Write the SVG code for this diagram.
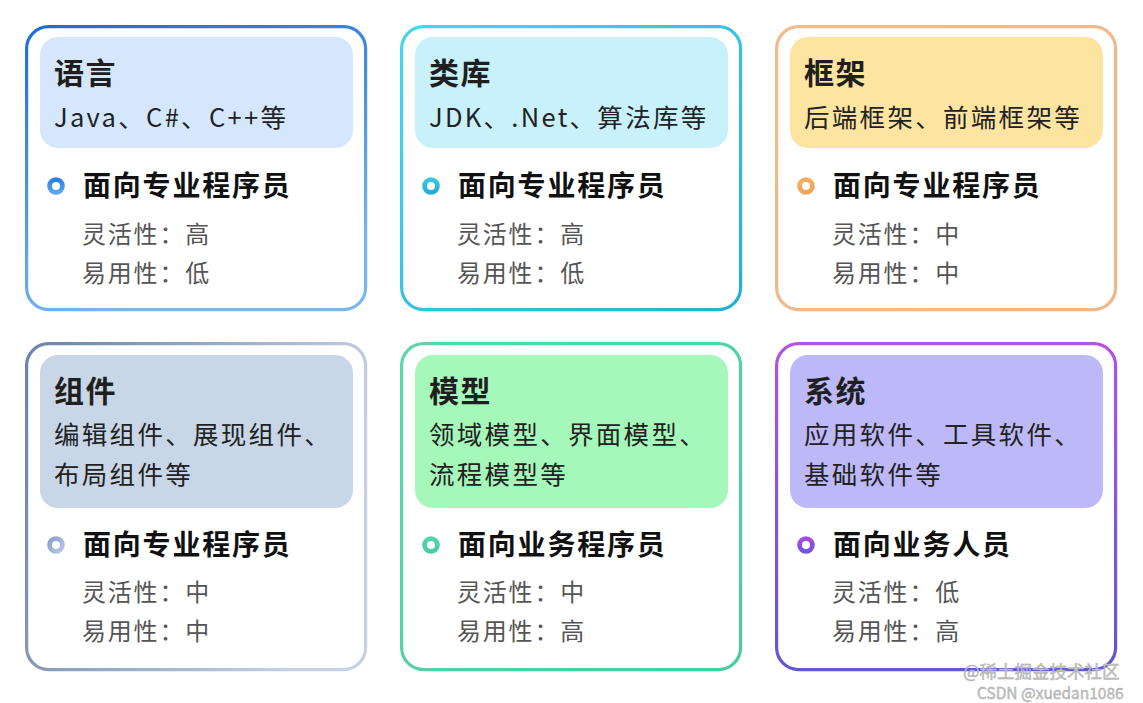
<svg xmlns="http://www.w3.org/2000/svg" width="1143" height="703" viewBox="0 0 1143 703">
<defs>
<linearGradient id="b1" x1="0" y1="0" x2="0.35" y2="1"><stop offset="0" stop-color="#1c6cd8"/><stop offset="1" stop-color="#78b8ef"/></linearGradient>
<linearGradient id="b2" x1="0" y1="0" x2="1" y2="1"><stop offset="0" stop-color="#48d6ec"/><stop offset="1" stop-color="#26afd5"/></linearGradient>
<linearGradient id="b3" x1="0" y1="0" x2="1" y2="1"><stop offset="0" stop-color="#f1bb8d"/><stop offset="1" stop-color="#efb68a"/></linearGradient>
<linearGradient id="b4" x1="0" y1="0" x2="1" y2="0.3"><stop offset="0" stop-color="#6a82a6"/><stop offset="1" stop-color="#c6d1e3"/></linearGradient>
<linearGradient id="b5" x1="0" y1="0" x2="1" y2="1"><stop offset="0" stop-color="#5dd6b0"/><stop offset="1" stop-color="#47cca2"/></linearGradient>
<linearGradient id="b6" x1="0" y1="0" x2="0" y2="1"><stop offset="0" stop-color="#b453e0"/><stop offset="1" stop-color="#5f57d3"/></linearGradient>
<linearGradient id="d1" x1="0" y1="0" x2="0" y2="1"><stop offset="0" stop-color="#2a80e2"/><stop offset="1" stop-color="#5ea6ee"/></linearGradient>
<linearGradient id="d2" x1="0" y1="0" x2="0" y2="1"><stop offset="0" stop-color="#37c6e4"/><stop offset="1" stop-color="#22acd6"/></linearGradient>
<linearGradient id="d3" x1="0" y1="0" x2="0" y2="1"><stop offset="0" stop-color="#f6ad62"/><stop offset="1" stop-color="#f2a45a"/></linearGradient>
<linearGradient id="d4" x1="0" y1="0" x2="1" y2="1"><stop offset="0" stop-color="#889fcc"/><stop offset="1" stop-color="#b8c7e6"/></linearGradient>
<linearGradient id="d5" x1="0" y1="0" x2="0" y2="1"><stop offset="0" stop-color="#52d3ae"/><stop offset="1" stop-color="#48cba6"/></linearGradient>
<linearGradient id="d6" x1="0" y1="0" x2="0" y2="1"><stop offset="0" stop-color="#a24ee0"/><stop offset="1" stop-color="#7654da"/></linearGradient>
</defs>
<style>
text{font-family:"Noto Sans CJK SC","Noto Sans",sans-serif;}
.card{fill:#ffffff;stroke-width:3.2;}
.title{font-size:30px;font-weight:700;fill:#1f1f1f;letter-spacing:1.5px;}
.sub{font-size:25.5px;fill:#222222;letter-spacing:2.3px;}
.who{font-size:28px;font-weight:700;fill:#111111;letter-spacing:1.8px;}
.det{font-size:24px;fill:#555555;letter-spacing:1.8px;}
.dot{fill:none;stroke-width:4.8;}
.wm{fill:#c4c4c4;stroke:#a8a8a8;stroke-width:0.4;}
</style>
<rect width="1143" height="703" fill="#ffffff"/>

<g id="card-yuyan">
<rect class="card" x="26.6" y="26.6" width="339" height="283" rx="22" stroke="url(#b1)"/>
<rect x="40" y="37" width="313" height="111" rx="18" fill="#d5e7fc"/>
<text class="title" x="54" y="84">语言</text>
<text class="sub" x="54" y="127">Java、C#、C++等</text>
<circle class="dot" cx="56" cy="186" r="6.4" stroke="url(#d1)"/>
<text class="who" x="83" y="196">面向专业程序员</text>
<text class="det" x="82" y="243">灵活性：高</text>
<text class="det" x="82" y="282">易用性：低</text>
</g>

<g id="card-leiku">
<rect class="card" x="401.6" y="26.6" width="339" height="283" rx="22" stroke="url(#b2)"/>
<rect x="415" y="37" width="313" height="111" rx="18" fill="#c8f1fc"/>
<text class="title" x="429" y="84">类库</text>
<text class="sub" x="429" y="127">JDK、.Net、算法库等</text>
<circle class="dot" cx="431" cy="186" r="6.4" stroke="url(#d2)"/>
<text class="who" x="458" y="196">面向专业程序员</text>
<text class="det" x="457" y="243">灵活性：高</text>
<text class="det" x="457" y="282">易用性：低</text>
</g>

<g id="card-kuangjia">
<rect class="card" x="776.6" y="26.6" width="339" height="283" rx="22" stroke="url(#b3)"/>
<rect x="790" y="37" width="313" height="111" rx="18" fill="#fde4a0"/>
<text class="title" x="804" y="84">框架</text>
<text class="sub" x="804" y="127">后端框架、前端框架等</text>
<circle class="dot" cx="806" cy="186" r="6.4" stroke="url(#d3)"/>
<text class="who" x="833" y="196">面向专业程序员</text>
<text class="det" x="832" y="243">灵活性：中</text>
<text class="det" x="832" y="282">易用性：中</text>
</g>

<g id="card-zujian">
<rect class="card" x="26.6" y="343.6" width="339" height="326" rx="22" stroke="url(#b4)"/>
<rect x="40" y="355" width="313" height="153" rx="18" fill="#c8d6e8"/>
<text class="title" x="54" y="402">组件</text>
<text class="sub" x="54" y="444">编辑组件、展现组件、</text>
<text class="sub" x="54" y="484">布局组件等</text>
<circle class="dot" cx="56" cy="545" r="6.4" stroke="url(#d4)"/>
<text class="who" x="83" y="555">面向专业程序员</text>
<text class="det" x="82" y="601">灵活性：中</text>
<text class="det" x="82" y="640">易用性：中</text>
</g>

<g id="card-moxing">
<rect class="card" x="401.6" y="343.6" width="339" height="326" rx="22" stroke="url(#b5)"/>
<rect x="415" y="355" width="313" height="153" rx="18" fill="#a6f8ba"/>
<text class="title" x="429" y="402">模型</text>
<text class="sub" x="429" y="444">领域模型、界面模型、</text>
<text class="sub" x="429" y="484">流程模型等</text>
<circle class="dot" cx="431" cy="545" r="6.4" stroke="url(#d5)"/>
<text class="who" x="458" y="555">面向业务程序员</text>
<text class="det" x="457" y="601">灵活性：中</text>
<text class="det" x="457" y="640">易用性：高</text>
</g>

<g id="card-xitong">
<rect class="card" x="776.6" y="343.6" width="339" height="326" rx="22" stroke="url(#b6)"/>
<rect x="790" y="355" width="313" height="153" rx="18" fill="#bdb9f8"/>
<text class="title" x="804" y="402">系统</text>
<text class="sub" x="804" y="444">应用软件、工具软件、</text>
<text class="sub" x="804" y="484">基础软件等</text>
<circle class="dot" cx="806" cy="545" r="6.4" stroke="url(#d6)"/>
<text class="who" x="833" y="555">面向业务人员</text>
<text class="det" x="832" y="601">灵活性：低</text>
<text class="det" x="832" y="640">易用性：高</text>
</g>

<g id="watermark">
<text class="wm" x="963" y="678" font-size="17.5">@稀土掘金技术社区</text>
<text class="wm" x="977" y="699" font-size="15.5">CSDN @xuedan1086</text>
</g>
</svg>
